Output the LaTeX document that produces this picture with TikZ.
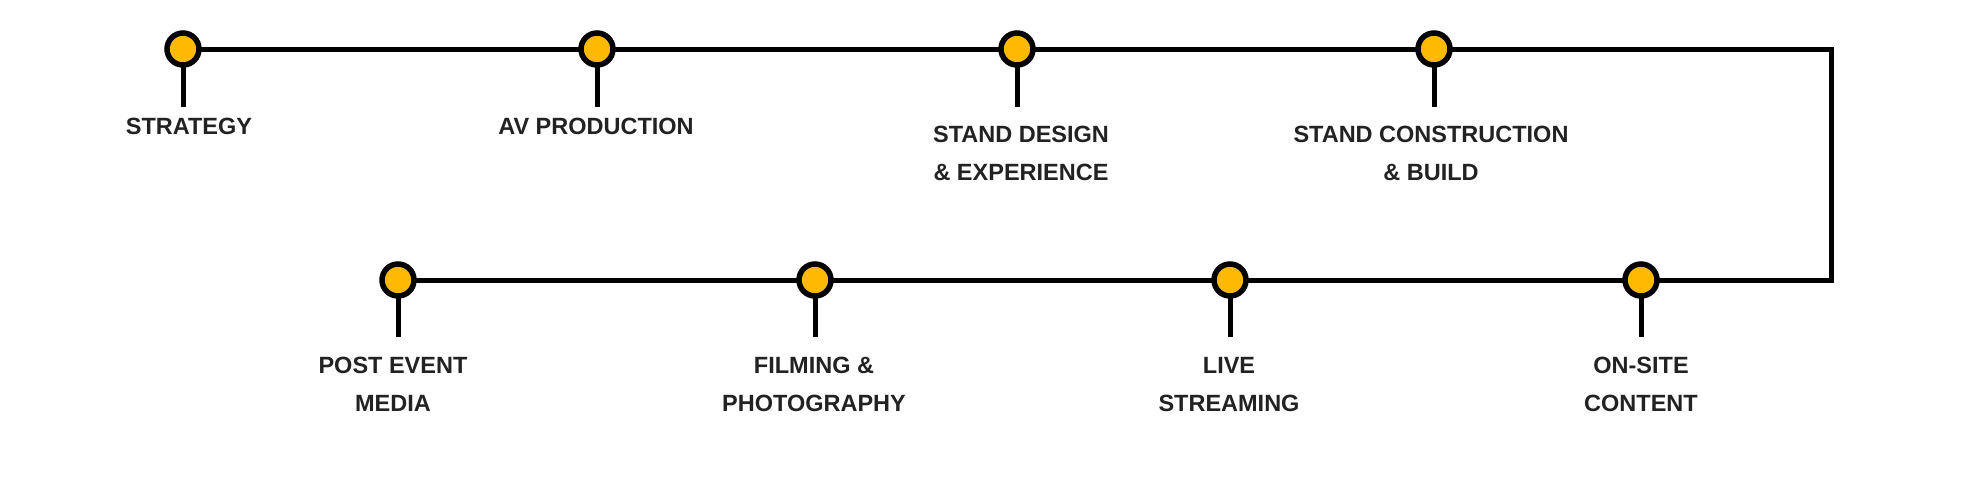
\documentclass[tikz,border=0pt]{standalone}
\usepackage{fontspec}
\setmainfont{Liberation Sans}
\definecolor{dotfill}{RGB}{255,185,0}
\definecolor{txt}{RGB}{34,34,34}
\begin{document}
\begin{tikzpicture}[x=1pt,y=-1pt,
  dotnode/.style={circle,draw=black,line width=5.5pt,fill=dotfill,minimum size=32pt,inner sep=0pt},
  lbl/.style={font=\fontsize{23.5}{38}\selectfont\bfseries,text=txt,align=center,inner sep=0pt,anchor=north},
  conn/.style={line width=5pt,draw=black}]
\useasboundingbox (0,0) rectangle (1979,488);
% dots positions
\coordinate (p1) at (183,49);
\coordinate (p2) at (597,49);
\coordinate (p3) at (1017,49);
\coordinate (p4) at (1434,49);
\coordinate (p5) at (398,280);
\coordinate (p6) at (815,280);
\coordinate (p7) at (1230,280);
\coordinate (p8) at (1641,280);
\coordinate (cr1) at (1831,49);
\coordinate (cr2) at (1831,280);
% stems ends
\coordinate (s1) at (183,107);
\coordinate (s2) at (597,107);
\coordinate (s3) at (1017,107);
\coordinate (s4) at (1434,107);
\coordinate (s5) at (398,337);
\coordinate (s6) at (815,337);
\coordinate (s7) at (1230,337);
\coordinate (s8) at (1641,337);
% main path
\draw[conn,line join=miter] (p1) -- (p2) -- (p3) -- (p4) -- (cr1) -- (cr2) -- (p8) -- (p7) -- (p6) -- (p5);
% stems
\foreach \i in {1,...,8} {\draw[conn] (p\i) -- (s\i);}
% dots
\foreach \i in {1,...,8} {\node[dotnode] (d\i) at (p\i) {};}
% labels
\node[lbl] (l1) at (189,118) {STRATEGY};
\node[lbl] (l2) at (596,118) {AV PRODUCTION};
\node[lbl] (l3) at (1021,126) {STAND DESIGN\\\& EXPERIENCE};
\node[lbl] (l4) at (1431,126) {STAND CONSTRUCTION\\\& BUILD};
\node[lbl] (l5) at (393,357) {POST EVENT\\MEDIA};
\node[lbl] (l6) at (814,357) {FILMING \&\\PHOTOGRAPHY};
\node[lbl] (l7) at (1229,357) {LIVE\\STREAMING};
\node[lbl] (l8) at (1641,357) {ON-SITE\\CONTENT};
\end{tikzpicture}
\end{document}
